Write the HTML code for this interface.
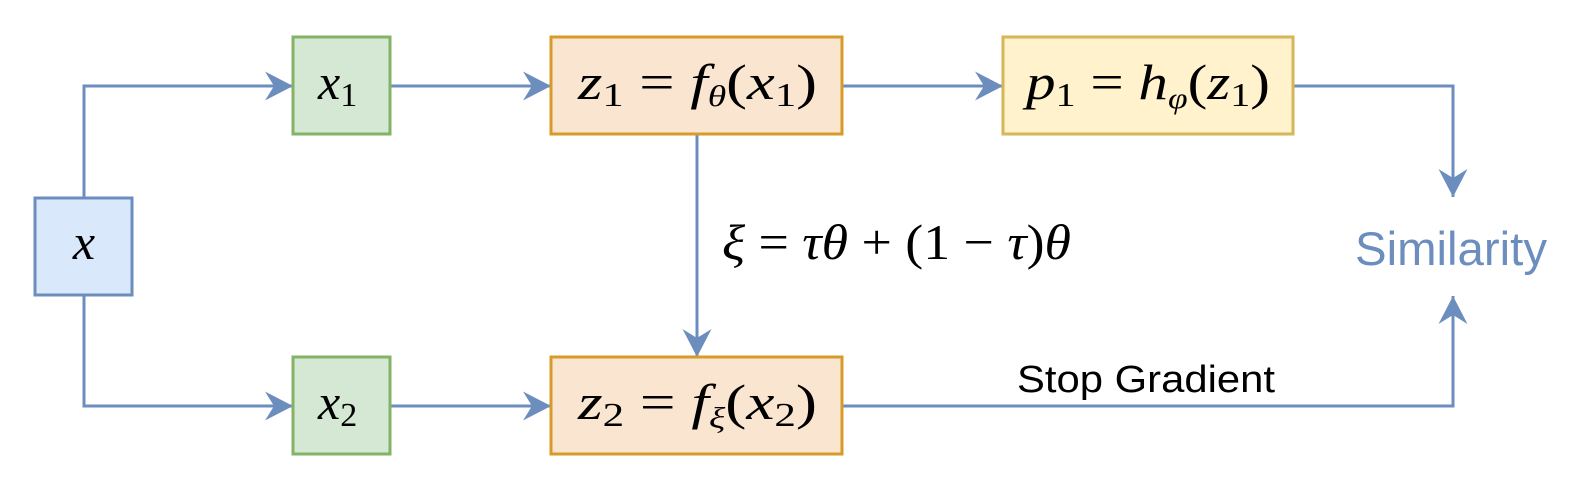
<!DOCTYPE html>
<html><head><meta charset="utf-8"><style>
html,body{margin:0;padding:0;background:#fff}
.m{font-family:"Liberation Serif",serif;font-size:50px;fill:#000}
.i{font-style:italic}
.s{font-size:34px;font-style:normal}
.si{font-size:30px;font-style:italic}
.sans{font-family:"Liberation Sans",sans-serif}
</style></head>
<body>
<svg width="1578" height="490" viewBox="0 0 1578 490" xmlns="http://www.w3.org/2000/svg">
<defs>
<marker id="a" markerUnits="userSpaceOnUse" markerWidth="30" markerHeight="30" viewBox="0 0 30 30" refX="28" refY="15" orient="auto">
<path d="M0,0.5 L28,15 L0,29.5 L9,15 Z" fill="#6c8ebf"/>
</marker>
</defs>
<g fill="none" stroke="#6c8ebf" stroke-width="3">
<path d="M84,198 V86 H293" marker-end="url(#a)"/>
<path d="M84,295 V406 H293" marker-end="url(#a)"/>
<path d="M390,86 H551" marker-end="url(#a)"/>
<path d="M390,406 H551" marker-end="url(#a)"/>
<path d="M842,86 H1003" marker-end="url(#a)"/>
<path d="M697,134 V357" marker-end="url(#a)"/>
<path d="M1293,86 H1453 V197" marker-end="url(#a)"/>
<path d="M842,406 H1453 V296" marker-end="url(#a)"/>
</g>
<rect x="35" y="198" width="97" height="97" fill="#dae8fc" stroke="#6c8ebf" stroke-width="3"/>
<rect x="293" y="37" width="97" height="97" fill="#d5e8d4" stroke="#82b366" stroke-width="3"/>
<rect x="293" y="357" width="97" height="97" fill="#d5e8d4" stroke="#82b366" stroke-width="3"/>
<rect x="551" y="37" width="291" height="97" fill="#fae6d0" stroke="#d79b2a" stroke-width="3"/>
<rect x="551" y="357" width="291" height="97" fill="#fae6d0" stroke="#d79b2a" stroke-width="3"/>
<rect x="1003" y="37" width="290" height="97" fill="#fff2cc" stroke="#d6b656" stroke-width="3"/>
<text x="84" y="259" text-anchor="middle" class="m i">x</text>
<text x="318" y="99" class="m"><tspan class="i">x</tspan><tspan class="s" dy="7">1</tspan></text>
<text x="318" y="419" class="m"><tspan class="i">x</tspan><tspan class="s" dy="7">2</tspan></text>
<text x="578" y="99" class="m" textLength="239" lengthAdjust="spacingAndGlyphs"><tspan class="i">z</tspan><tspan class="s" dy="7">1</tspan><tspan dy="-7"> = </tspan><tspan class="i">f</tspan><tspan class="si" dy="7">θ</tspan><tspan dy="-7">(</tspan><tspan class="i">x</tspan><tspan class="s" dy="7">1</tspan><tspan dy="-7">)</tspan></text>
<text x="578" y="419" class="m" textLength="239" lengthAdjust="spacingAndGlyphs"><tspan class="i">z</tspan><tspan class="s" dy="7">2</tspan><tspan dy="-7"> = </tspan><tspan class="i">f</tspan><tspan class="si" dy="9">ξ</tspan><tspan dy="-9">(</tspan><tspan class="i">x</tspan><tspan class="s" dy="7">2</tspan><tspan dy="-7">)</tspan></text>
<text x="1026" y="99" class="m" textLength="244" lengthAdjust="spacingAndGlyphs"><tspan class="i">p</tspan><tspan class="s" dy="7">1</tspan><tspan dy="-7"> = </tspan><tspan class="i">h</tspan><tspan class="si" dy="9">φ</tspan><tspan dy="-9">(</tspan><tspan class="i">z</tspan><tspan class="s" dy="7">1</tspan><tspan dy="-7">)</tspan></text>
<text x="722" y="259" class="m" textLength="349" lengthAdjust="spacingAndGlyphs"><tspan class="i">ξ</tspan> = <tspan class="i">τθ</tspan> + (1 − <tspan class="i">τ</tspan>)<tspan class="i">θ</tspan></text>
<text x="1017" y="392" class="sans" style="font-size:38px" textLength="258" lengthAdjust="spacingAndGlyphs">Stop Gradient</text>
<text x="1355" y="265" class="sans" style="font-size:47px;fill:#6c8ebf" textLength="192" lengthAdjust="spacingAndGlyphs">Similarity</text>
</svg>
</body></html>
